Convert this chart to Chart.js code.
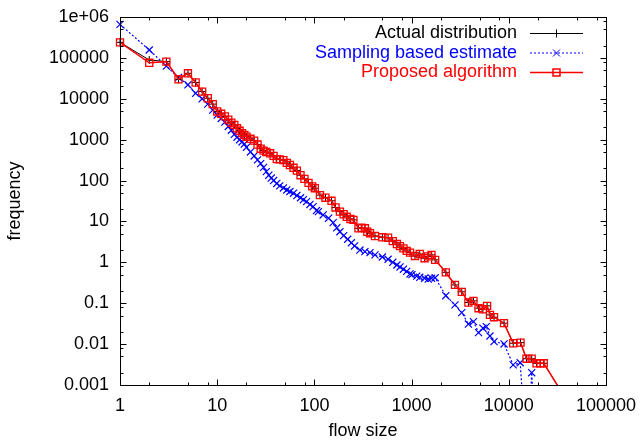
<!DOCTYPE html>
<html>
<head>
<meta charset="utf-8">
<script src="https://cdn.jsdelivr.net/npm/chart.js@4.4.1/dist/chart.umd.min.js"></script>
<style>
  body { margin: 0; background: #fff; }
  #wrap { width: 641px; height: 443px; }
</style>
</head>
<body>
<div id="wrap"><canvas id="flow-chart"></canvas></div>
<script>
// flow sizes shared by the actual distribution and the proposed algorithm
const flowSizes = [1,2,3,4,5,6,7,8,9,10,11,12,13,14,15,16,17,18,19,20,22,24,26,28,30,32,35,38,41,44,48,52,56,61,66,72,79,87,95,101,
  114,130,150,165,183,200,215,235,252,284,305,331,350,373,420,500,573,640,706,760,824,890,964,1083,1213,1360,1480,1601,1747,2248,
  2794,3281,3842,4330,4884,5420,5980,6400,7050,8930,11100,13200,15200,17200,19300,21200,22900,36000];
const actualFreq = [240000,89000,81000,30000,42000,25000,15000,10300,7400,4900,4300,3700,3100,2600,2300,1900,1650,1450,1300,1180,
  1050,950,760,600,540,500,465,400,335,330,315,270,240,205,175,135,110,88,72,65,
  44,38,32,22,17.4,15,13,11.5,10.9,6.8,7,6.8,5.6,5.15,4.4,4.1,4.0,3.3,2.8,2.5,
  2.2,1.9,1.73,1.43,1.6,1.26,1.4,1.52,1.15,0.57,0.28,0.19,0.104,0.114,0.0755,0.071,0.086,0.052,0.0455,0.0325,
  0.0105,0.0109,0.0044,0.0044,0.0034,0.0034,0.0034,0.0006];
const proposedFreq = [240000,76000,81000,30000,42000,25000,15000,10300,7400,4900,4300,3700,3100,2600,2300,1900,1650,1450,1300,1180,
  1050,950,760,600,540,500,465,400,335,330,315,270,240,205,175,135,110,88,72,65,
  44,38,32,22,17.4,15,13,11.5,10.9,6.8,7,6.8,5.6,5.15,4.4,4.1,4.0,3.3,2.8,2.5,
  2.2,1.9,1.73,1.43,1.6,1.26,1.4,1.52,1.15,0.57,0.28,0.19,0.104,0.114,0.0755,0.071,0.086,0.052,0.0455,0.0325,
  0.0105,0.0109,0.0044,0.0044,0.0034,0.0034,0.0034,0.0006];

const samplingSizes = [1,2,3,4,5,6,7,8,9,10,11,12,13,14,15,16,17,18,19,20,22,24,26,28,30,32,34,36,38,41,44,48,52,56,61,66,72,77,83,90,
  97,105,110,123,140,156,170,183,200,220,240,259,294,331,373,420,500,573,640,706,760,824,890,964,1009,1130,1213,1360,1483,1601,
  1747,2248,2794,3281,3842,4330,4884,5420,5870,6400,7050,8930,11100,13100,15500,17200,19500];
const samplingFreq = [660000,156000,63000,33000,22000,13600,10000,7400,5300,4000,3300,2700,2100,1700,1350,1150,1000,880,780,650,
  500,400,320,260,210,165,135,115,100,85,74,66,59,54,49,43,38,34,30.5,26,
  23,18.5,17.4,14.4,12,9.35,7,5.6,4.5,3.67,3,2.52,2.0,1.83,1.73,1.52,1.35,1.19,1.0,0.86,
  0.77,0.68,0.6,0.52,0.5,0.46,0.43,0.41,0.39,0.41,0.42,0.153,0.091,0.059,0.031,0.0355,0.0191,0.0245,0.0268,0.0158,
  0.0115,0.0101,0.0031,0.0035,0.00001,0.002,0.00001];

const xTicks = [1,10,100,1000,10000,100000];
const xTickLabels = ['1','10','100','1000','10000','100000'];
const yTicks = [0.001,0.01,0.1,1,10,100,1000,10000,100000,1000000];
const yTickLabels = ['0.001','0.01','0.1','1','10','100','1000','10000','100000','1e+06'];

const seriesNames = ['Actual distribution','Sampling based estimate','Proposed algorithm'];
const seriesColors = ['#000000','#0000ff','#ff0000'];

function pts(xs, ys) { return xs.map((x, i) => ({x: x, y: ys[i]})); }
function labelFor(vals, labels, v) {
  const i = vals.findIndex(t => Math.abs(t - v) / t < 1e-9);
  return i >= 0 ? labels[i] : '';
}

// gnuplot style frame, inward ticks and key
const framePlugin = {
  id: 'frame',
  afterDraw(chart) {
    const ctx = chart.ctx, a = chart.chartArea;
    const sx = chart.scales.x, sy = chart.scales.y;
    const L = Math.round(a.left) + 0.5, R = Math.round(a.right) + 0.5;
    const T = Math.round(a.top) + 0.5, B = Math.round(a.bottom) + 0.5;
    ctx.save();
    ctx.strokeStyle = '#000';
    ctx.lineWidth = 1;
    ctx.strokeRect(L, T, R - L, B - T);
    ctx.beginPath();
    xTicks.forEach((d, k) => {
      [1,2,5,8].forEach(m => {
        if (k === xTicks.length - 1 && m > 1) return;
        const px = Math.round(sx.getPixelForValue(d * m)) + 0.5;
        const len = m === 1 ? 6 : 3;
        ctx.moveTo(px, B); ctx.lineTo(px, B - len);
        ctx.moveTo(px, T); ctx.lineTo(px, T + len);
      });
    });
    yTicks.forEach((d, k) => {
      [1,2,5,8].forEach(m => {
        if (k === yTicks.length - 1 && m > 1) return;
        const py = Math.round(sy.getPixelForValue(d * m)) + 0.5;
        const len = m === 1 ? 6 : 3;
        ctx.moveTo(L, py); ctx.lineTo(L + len, py);
        ctx.moveTo(R, py); ctx.lineTo(R - len, py);
      });
    });
    ctx.stroke();

    // key
    ctx.font = '18px "Liberation Sans", Arial, sans-serif';
    ctx.textAlign = 'right';
    ctx.textBaseline = 'middle';
    const rows = [33.5, 53, 72.5];
    rows.forEach((y, i) => {
      ctx.fillStyle = seriesColors[i];
      ctx.fillText(seriesNames[i], 517, y);
      ctx.strokeStyle = seriesColors[i];
      ctx.lineWidth = i === 2 ? 1.5 : 1;
      ctx.setLineDash(i === 1 ? [2, 2] : []);
      ctx.beginPath();
      ctx.moveTo(530, y); ctx.lineTo(583, y);
      ctx.stroke();
      ctx.setLineDash([]);
      ctx.beginPath();
      const cx = 556.5;
      if (i === 0) { ctx.moveTo(cx - 4, y); ctx.lineTo(cx + 4, y); ctx.moveTo(cx, y - 4); ctx.lineTo(cx, y + 4); }
      if (i === 1) { ctx.moveTo(cx - 3.5, y - 3.5); ctx.lineTo(cx + 3.5, y + 3.5); ctx.moveTo(cx + 3.5, y - 3.5); ctx.lineTo(cx - 3.5, y + 3.5); }
      if (i === 2) { ctx.rect(cx - 3.5, y - 3.5, 7, 7); }
      ctx.stroke();
    });
    ctx.restore();
  }
};

new Chart(document.getElementById('flow-chart'), {
  type: 'line',
  data: {
    datasets: [
      {
        label: seriesNames[2],
        data: pts(flowSizes, proposedFreq),
        borderColor: seriesColors[2],
        borderWidth: 1.5,
        pointStyle: 'rect',
        pointRadius: 5,
        pointBorderWidth: 1.3,
        pointBorderColor: seriesColors[2],
        pointBackgroundColor: 'rgba(0,0,0,0)',
        order: 0
      },
      {
        label: seriesNames[0],
        data: pts(flowSizes, actualFreq),
        borderColor: seriesColors[0],
        borderWidth: 1,
        pointStyle: 'cross',
        pointRadius: 4,
        pointBorderWidth: 1,
        pointBorderColor: seriesColors[0],
        order: 1
      },
      {
        label: seriesNames[1],
        data: pts(samplingSizes, samplingFreq),
        borderColor: seriesColors[1],
        borderWidth: 1.2,
        borderDash: [2, 2],
        pointStyle: 'crossRot',
        pointRadius: 5,
        pointBorderWidth: 1.2,
        pointBorderColor: seriesColors[1],
        order: 2
      }
    ]
  },
  options: {
    responsive: true,
    maintainAspectRatio: false,
    animation: false,
    clip: {left: 8, top: 8, right: 0, bottom: 0},
    layout: { padding: { top: 17, right: 35, left: 0, bottom: 0 } },
    elements: { line: { tension: 0, fill: false } },
    scales: {
      x: {
        type: 'logarithmic',
        min: 1,
        max: 100000,
        afterBuildTicks: s => { s.ticks = xTicks.map(v => ({value: v})); },
        afterFit: s => { s.height = 58; },
        grid: { display: false, drawTicks: true, tickLength: 10 },
        border: { display: false },
        ticks: {
          autoSkip: false,
          maxRotation: 0,
          padding: 0,
          color: '#000',
          font: { family: '"Liberation Sans", Arial, sans-serif', size: 18 },
          callback: v => labelFor(xTicks, xTickLabels, v)
        },
        title: {
          display: true,
          text: 'flow size',
          color: '#000',
          font: { family: '"Liberation Sans", Arial, sans-serif', size: 18 },
          padding: { top: 0, bottom: 1 }
        }
      },
      y: {
        type: 'logarithmic',
        min: 0.001,
        max: 1000000,
        afterBuildTicks: s => { s.ticks = yTicks.map(v => ({value: v})); },
        afterFit: s => { s.width = 120; },
        grid: { display: false, drawTicks: true, tickLength: 11 },
        border: { display: false },
        ticks: {
          autoSkip: false,
          padding: 0,
          color: '#000',
          font: { family: '"Liberation Sans", Arial, sans-serif', size: 18 },
          callback: v => labelFor(yTicks, yTickLabels, v)
        },
        title: {
          display: true,
          text: 'frequency',
          color: '#000',
          font: { family: '"Liberation Sans", Arial, sans-serif', size: 18 },
          padding: { top: 4, bottom: 0 }
        }
      }
    },
    plugins: {
      legend: { display: false },
      tooltip: { enabled: false }
    }
  },
  plugins: [framePlugin]
});
</script>
</body>
</html>
